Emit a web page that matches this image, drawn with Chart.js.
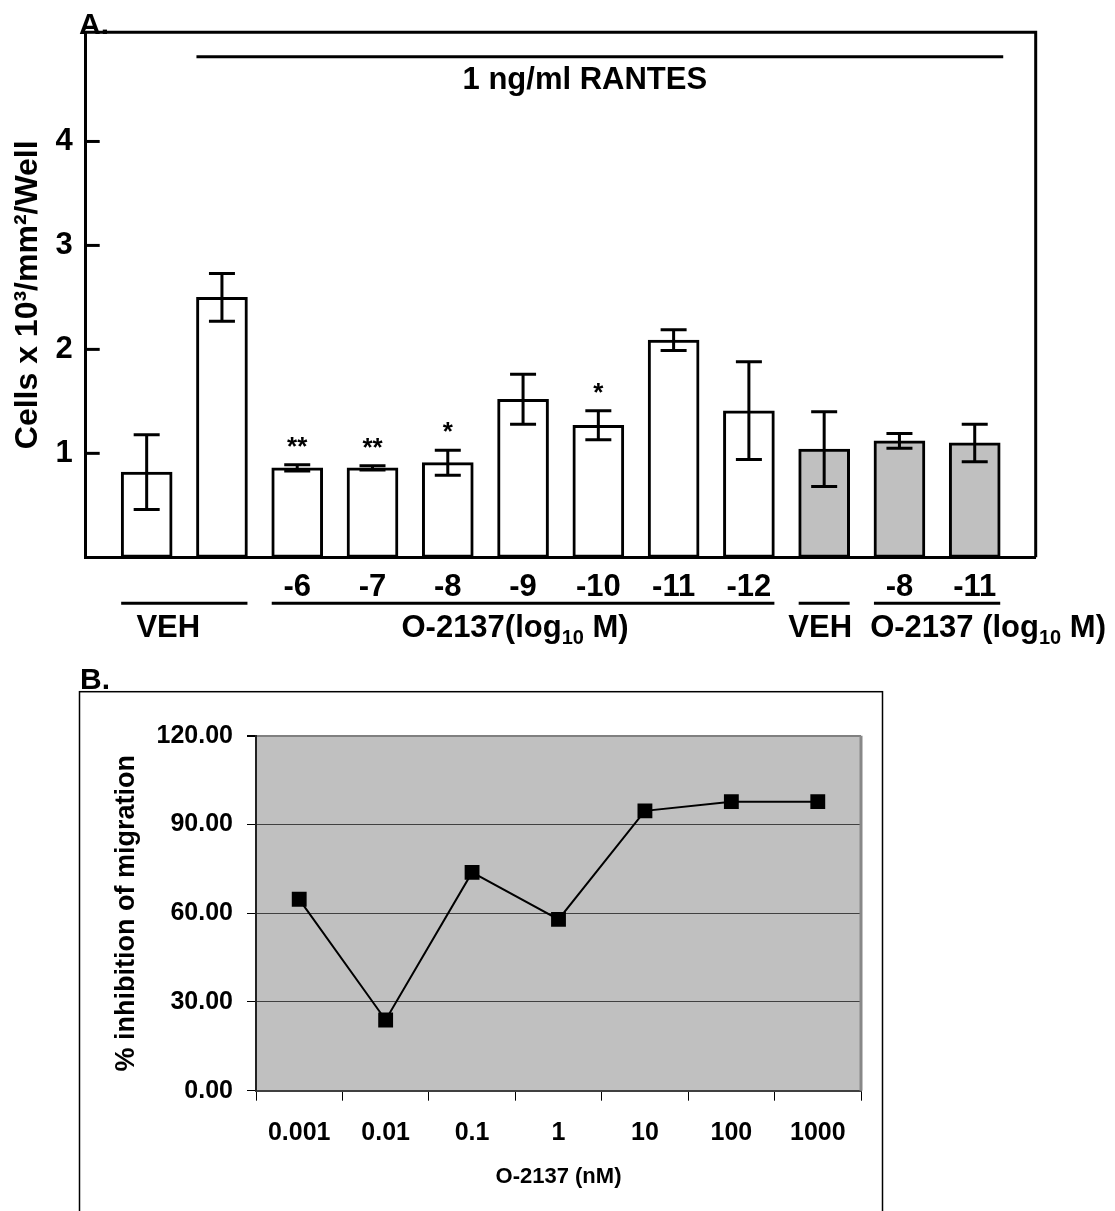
<!DOCTYPE html>
<html>
<head>
<meta charset="utf-8">
<script src="https://cdn.jsdelivr.net/npm/chart.js@4.4.0/dist/chart.umd.min.js"></script>
<style>
  html, body { margin: 0; padding: 0; background: #fff; }
  #wrap { position: relative; width: 1115px; height: 1211px; overflow: hidden; }
  canvas { position: absolute; left: 0; }
  #chartA { top: 0; }
  #chartB { top: 650px; }
</style>
</head>
<body>
<div id="wrap">
  <canvas id="chartA" width="1115" height="650"></canvas>
  <canvas id="chartB" width="1115" height="561"></canvas>
</div>
<script>
// ---- panel A data ----
const barLabels = ["", "", "-6", "-7", "-8", "-9", "-10", "-11", "-12", "", "-8", "-11"];
const cellMeans = [0.82, 2.50, 0.86, 0.86, 0.91, 1.52, 1.27, 2.09, 1.41, 1.04, 1.12, 1.10];
const cellErrors = [0.36, 0.23, 0.03, 0.02, 0.12, 0.24, 0.14, 0.10, 0.47, 0.36, 0.07, 0.18];
const stars = ["", "", "**", "**", "*", "", "*", "", "", "", "", ""];
const yTicksA = [1, 2, 3, 4];

// ---- panel B data ----
const doseLabels = ["0.001", "0.01", "0.1", "1", "10", "100", "1000"];
const inhibition = [64.7, 23.9, 73.8, 57.9, 94.6, 97.7, 97.7];

const FONT = '"Liberation Sans", Arial, Helvetica, sans-serif';
function bold(size) { return { family: FONT, size: size, weight: "bold" }; }

// groups drawn under the bar labels (text parts: [text, "sub"?])
const groupsA = [
    { from: 0, to: 1, parts: [["VEH"]], dx: -16 },
    { from: 2, to: 8, parts: [["O-2137(log"], ["10", "sub"], [" M)"]], dx: -8 },
    { from: 9, to: 9, parts: [["VEH"]], dx: -4 },
    { from: 10, to: 11, parts: [["O-2137 (log"], ["10", "sub"], [" M)"]], dx: 51 }
];

function drawParts(ctx, parts, cx, y) {
    const widths = parts.map(p => {
        ctx.font = p[1] === "sub" ? "bold 20px " + FONT : "bold 31px " + FONT;
        return ctx.measureText(p[0]).width;
    });
    let x = cx - widths.reduce((a, b) => a + b, 0) / 2;
    parts.forEach((p, i) => {
        ctx.font = p[1] === "sub" ? "bold 20px " + FONT : "bold 31px " + FONT;
        ctx.fillText(p[0], x, p[1] === "sub" ? y + 7 : y);
        x += widths[i];
    });
}

const panelA = {
    id: "panelA",
    afterDraw(chart) {
        const ctx = chart.ctx;
        const area = chart.chartArea;
        const y = chart.scales.y;
        const bars = chart.getDatasetMeta(0).data;
        ctx.save();
        ctx.strokeStyle = "#000";
        ctx.fillStyle = "#000";
        ctx.lineWidth = 3;

        // box top + right
        ctx.beginPath();
        ctx.moveTo(area.left, area.top);
        ctx.lineTo(area.right, area.top);
        ctx.lineTo(area.right, area.bottom);
        ctx.stroke();

        // inward tick marks
        yTicksA.forEach(v => {
            const py = y.getPixelForValue(v);
            ctx.beginPath();
            ctx.moveTo(area.left, py);
            ctx.lineTo(area.left + 14, py);
            ctx.stroke();
        });

        // error bars + stars
        ctx.textAlign = "center";
        ctx.textBaseline = "alphabetic";
        bars.forEach((bar, i) => {
            const top = y.getPixelForValue(cellMeans[i] + cellErrors[i]);
            const bot = y.getPixelForValue(cellMeans[i] - cellErrors[i]);
            ctx.beginPath();
            ctx.moveTo(bar.x, top); ctx.lineTo(bar.x, bot);
            ctx.moveTo(bar.x - 13, top); ctx.lineTo(bar.x + 13, top);
            ctx.moveTo(bar.x - 13, bot); ctx.lineTo(bar.x + 13, bot);
            ctx.stroke();
            if (stars[i]) {
                ctx.font = "bold 26px " + FONT;
                ctx.fillText(stars[i], bar.x, top - 10);
            }
        });

        // RANTES bar
        const x0 = bars[1].x - bars[1].width / 2;
        const x1 = bars[11].x + bars[11].width / 2 + 3;
        ctx.beginPath();
        ctx.moveTo(x0, area.top + 24.5);
        ctx.lineTo(x1, area.top + 24.5);
        ctx.stroke();
        ctx.font = "bold 31px " + FONT;
        ctx.fillText("1 ng/ml RANTES", (x0 + x1) / 2 - 15, area.top + 57);

        // panel letter
        ctx.textAlign = "left";
        ctx.font = "bold 30px " + FONT;
        ctx.fillText("A.", 79, 34);

        // group lines and labels
        groupsA.forEach(g => {
            const a = bars[g.from].x - bars[g.from].width / 2;
            const b = bars[g.to].x + bars[g.to].width / 2;
            ctx.beginPath();
            ctx.moveTo(a, area.bottom + 46);
            ctx.lineTo(b, area.bottom + 46);
            ctx.stroke();
            drawParts(ctx, g.parts, (a + b) / 2 + g.dx, area.bottom + 80);
        });
        ctx.restore();
    }
};

new Chart(document.getElementById("chartA"), {
    type: "bar",
    data: {
        datasets: [{
            data: cellMeans.map((v, i) => ({ x: i + 1, y: v })),
            backgroundColor: ctx => ctx.dataIndex >= 9 ? "#c0c0c0" : "#ffffff",
            borderColor: "#000",
            borderWidth: 3,
            borderSkipped: false,
            barThickness: 51
        }]
    },
    options: {
        responsive: false,
        animation: false,
        layout: { padding: { left: 0, top: 32.3, right: 79.3, bottom: 0 } },
        plugins: { legend: { display: false }, tooltip: { enabled: false } },
        scales: {
            x: {
                type: "linear",
                offset: false,
                min: 0.19,
                max: 12.81,
                afterBuildTicks: s => { s.ticks = barLabels.map((_, i) => ({ value: i + 1 })); },
                afterFit: s => { s.height = 92.7; },
                ticks: {
                    callback: v => barLabels[v - 1],
                    autoSkip: false, maxRotation: 0, padding: 12,
                    color: "#000", font: bold(31)
                },
                grid: { display: false, drawTicks: false },
                border: { display: true, color: "#000", width: 3 }
            },
            y: {
                min: 0,
                max: 5.05,
                afterBuildTicks: s => { s.ticks = yTicksA.map(v => ({ value: v })); },
                afterFit: s => { s.width = 85.7; },
                ticks: { padding: 13, color: "#000", font: bold(31) },
                grid: { display: false, drawTicks: false },
                border: { display: true, color: "#000", width: 3 },
                title: {
                    display: true,
                    text: "Cells x 10³/mm²/Well",
                    color: "#000",
                    font: bold(32),
                    padding: { top: 9, bottom: 0 }
                }
            }
        }
    },
    plugins: [panelA]
});

// ---- panel B ----
const panelB = {
    id: "panelB",
    beforeDraw(chart) {
        const ctx = chart.ctx;
        const area = chart.chartArea;
        ctx.save();
        ctx.fillStyle = "#c0c0c0";
        ctx.fillRect(area.left, area.top, area.right - area.left, area.bottom - area.top);
        ctx.strokeStyle = "#000";
        ctx.lineWidth = 1.5;
        ctx.strokeRect(79.5, 41.7, 803, 600);
        ctx.fillStyle = "#000";
        ctx.font = "bold 30px " + FONT;
        ctx.textAlign = "left";
        ctx.textBaseline = "alphabetic";
        ctx.fillText("B.", 80, 38.5);
        ctx.restore();
    },
    afterDraw(chart) {
        const ctx = chart.ctx;
        const area = chart.chartArea;
        ctx.save();
        ctx.strokeStyle = "#888";
        ctx.lineWidth = 3;
        ctx.beginPath();
        ctx.moveTo(area.right, area.top);
        ctx.lineTo(area.right, area.bottom);
        ctx.stroke();
        ctx.restore();
    }
};

new Chart(document.getElementById("chartB"), {
    type: "line",
    data: {
        labels: doseLabels,
        datasets: [{
            data: inhibition,
            borderColor: "#000",
            borderWidth: 2,
            tension: 0,
            pointStyle: "rect",
            pointRadius: 10.5,
            pointBorderWidth: 0,
            pointBackgroundColor: "#000"
        }]
    },
    options: {
        responsive: false,
        animation: false,
        layout: { padding: { left: 0, top: 85.7, right: 254, bottom: 0 } },
        plugins: { legend: { display: false }, tooltip: { enabled: false } },
        scales: {
            x: {
                offset: true,
                afterFit: s => { s.height = 120.3; },
                ticks: { padding: 17, color: "#000", font: bold(25), maxRotation: 0, autoSkip: false },
                grid: { offset: true, drawOnChartArea: false, tickLength: 10, color: "#000", lineWidth: 1 },
                border: { color: "#404040", width: 2 },
                title: {
                    display: true,
                    text: "O-2137 (nM)",
                    color: "#000",
                    font: bold(22),
                    padding: { top: 0, bottom: 21 }
                }
            },
            y: {
                min: 0,
                max: 120,
                afterFit: s => { s.width = 256; },
                ticks: { stepSize: 30, padding: 14, color: "#000", font: bold(25), callback: v => v.toFixed(2) },
                grid: {
                    color: c => c.tick && c.tick.value === 120 ? "#808080" : "#404040",
                    lineWidth: c => c.tick && c.tick.value === 120 ? 2 : 1,
                    tickColor: "#000",
                    tickLength: 9
                },
                border: { color: "#222", width: 2 },
                title: {
                    display: true,
                    text: "% inhibition of migration",
                    color: "#000",
                    font: bold(27),
                    padding: { top: 110, bottom: 0 }
                }
            }
        }
    },
    plugins: [panelB]
});
</script>
</body>
</html>
